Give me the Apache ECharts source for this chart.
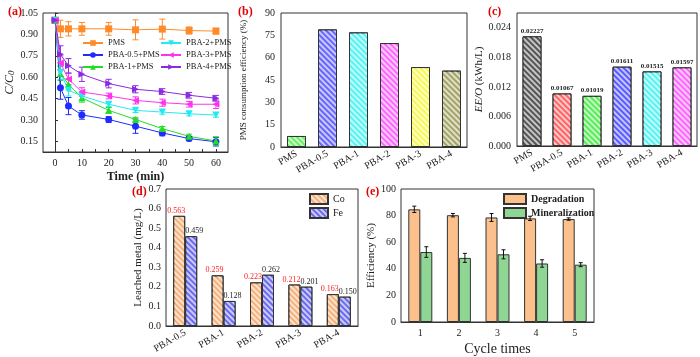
<!DOCTYPE html>
<html>
<head>
<meta charset="utf-8">
<script src="https://cdn.jsdelivr.net/npm/echarts@6/dist/echarts.min.js"></script>
<style>
html, body { margin: 0; padding: 0; background: #fff; }
#main { width: 700px; height: 357px; }
</style>
</head>
<body>
<div id="main"></div>
<script>
// (a) C/C0 vs time
var timeMin = [0, 2, 5, 10, 20, 30, 40, 50, 60];
var pmsC    = [1.0, 0.939, 0.939, 0.939, 0.939, 0.932, 0.937, 0.927, 0.923];
var pmsErr  = [0, 0.06, 0.05, 0.045, 0.045, 0.07, 0.07, 0.025, 0.02];
var pba05C  = [1.0, 0.525, 0.397, 0.335, 0.303, 0.256, 0.209, 0.169, 0.147];
var pba05Err= [0, 0.08, 0.06, 0.03, 0.02, 0.05, 0.02, 0.015, 0.03];
var pba1C   = [1.0, 0.626, 0.55, 0.455, 0.367, 0.303, 0.239, 0.185, 0.152];
var pba1Err = [0, 0.05, 0.04, 0.03, 0.02, 0.015, 0.015, 0.015, 0.03];
var pba2C   = [1.0, 0.633, 0.508, 0.468, 0.41, 0.367, 0.355, 0.343, 0.334];
var pba2Err = [0, 0.05, 0.04, 0.03, 0.015, 0.015, 0.015, 0.015, 0.015];
var pba3C   = [1.0, 0.70, 0.586, 0.496, 0.468, 0.437, 0.421, 0.41, 0.41];
var pba3Err = [0, 0.05, 0.04, 0.03, 0.02, 0.025, 0.025, 0.02, 0.03];
var pba4C   = [1.0, 0.76, 0.68, 0.62, 0.555, 0.515, 0.499, 0.473, 0.452];
var pba4Err = [0, 0.06, 0.05, 0.05, 0.03, 0.025, 0.02, 0.02, 0.02];
var timeLabels = [0, 10, 20, 30, 40, 50, 60];
var timeTicks = [0, 5, 10, 15, 20, 25, 30, 35, 40, 45, 50, 55, 60];
var cLabels = [0.15, 0.30, 0.45, 0.60, 0.75, 0.90, 1.05];

// (b) PMS consumption efficiency, (c) EE/O
var pbaCats = ['PMS', 'PBA-0.5', 'PBA-1', 'PBA-2', 'PBA-3', 'PBA-4'];
var pmsEff = [7.4, 79, 77, 69.8, 53.7, 51.3];
var eeo = [0.02227, 0.01067, 0.01019, 0.01611, 0.01515, 0.01597];

// (d) leached metal
var leachCats = ['PBA-0.5', 'PBA-1', 'PBA-2', 'PBA-3', 'PBA-4'];
var coLeach = [0.563, 0.259, 0.223, 0.212, 0.163];
var feLeach = [0.459, 0.128, 0.262, 0.201, 0.150];

// (e) cycles
var cycles = ['1', '2', '3', '4', '5'];
var degr = [84.7, 80.3, 78.6, 77.9, 77.4];
var degrErr = [2.4, 1.3, 3, 1.6, 0.9];
var miner = [52.6, 48.2, 50.9, 44.0, 43.1];
var minerErr = [4, 3.4, 3.4, 2.8, 1.5];

var FONT = 'Liberation Serif';
var myChart = echarts.init(document.getElementById('main'));

function hatch(c) {
    return { symbol: 'rect', symbolSize: 1, dashArrayX: [1, 0], dashArrayY: [1.5, 2],
             rotation: Math.PI / 4, color: c };
}
function axisBase(idx) {
    return {
        gridIndex: idx,
        axisLine: { lineStyle: { color: '#333', width: 1 } },
        axisTick: { inside: true, length: 3, lineStyle: { color: '#333' } },
        axisLabel: { color: '#222', fontFamily: FONT, fontSize: 10 },
        splitLine: { show: false },
        nameTextStyle: { color: '#222', fontFamily: FONT, fontSize: 11 }
    };
}
function ext(o, p) { for (var k in p) o[k] = p[k]; return o; }

function errLine(color) {
    return function (params, api) {
        var x = api.value(0), y = api.value(1), e = api.value(2);
        var t = api.coord([x, y + e]), b = api.coord([x, y - e]);
        var s = { stroke: color, lineWidth: 1 };
        return { type: 'group', children: [
            { type: 'line', shape: { x1: t[0], y1: t[1], x2: b[0], y2: b[1] }, style: s },
            { type: 'line', shape: { x1: t[0] - 3, y1: t[1], x2: t[0] + 3, y2: t[1] }, style: s },
            { type: 'line', shape: { x1: b[0] - 3, y1: b[1], x2: b[0] + 3, y2: b[1] }, style: s }
        ]};
    };
}
function barErr(dx) {
    return function (params, api) {
        var x = api.value(0), y = api.value(1), e = api.value(2);
        var t = api.coord([x, y + e]), b = api.coord([x, y - e]);
        var s = { stroke: '#111', lineWidth: 1 };
        return { type: 'group', children: [
            { type: 'line', shape: { x1: t[0] + dx, y1: t[1], x2: b[0] + dx, y2: b[1] }, style: s },
            { type: 'line', shape: { x1: t[0] + dx - 2, y1: t[1], x2: t[0] + dx + 2, y2: t[1] }, style: s },
            { type: 'line', shape: { x1: b[0] + dx - 2, y1: b[1], x2: b[0] + dx + 2, y2: b[1] }, style: s }
        ]};
    };
}
function zip(xs, ys, es) {
    return ys.map(function (v, i) { return es ? [xs[i], v, es[i]] : [xs[i], v]; });
}

var lineDefs = [
    { name: 'PMS', y: pmsC, e: pmsErr, color: '#ff8a2a', symbol: 'rect', rot: 0 },
    { name: 'PBA-0.5+PMS', y: pba05C, e: pba05Err, color: '#1f2bff', symbol: 'circle', rot: 0 },
    { name: 'PBA-1+PMS', y: pba1C, e: pba1Err, color: '#22dd22', symbol: 'triangle', rot: 0 },
    { name: 'PBA-2+PMS', y: pba2C, e: pba2Err, color: '#22eaf0', symbol: 'triangle', rot: 180 },
    { name: 'PBA-3+PMS', y: pba3C, e: pba3Err, color: '#ff33ee', symbol: 'triangle', rot: 90 },
    { name: 'PBA-4+PMS', y: pba4C, e: pba4Err, color: '#8a2be2', symbol: 'triangle', rot: -90 }
];

var series = [];
lineDefs.forEach(function (d) {
    series.push({
        type: 'custom', name: 'err-' + d.name, xAxisIndex: 0, yAxisIndex: 0,
        renderItem: errLine(d.color), data: zip(timeMin, d.y, d.e), silent: true
    });
    series.push({
        type: 'line', name: d.name, xAxisIndex: 0, yAxisIndex: 0,
        data: zip(timeMin, d.y), symbol: d.symbol, symbolRotate: d.rot, symbolSize: 7,
        color: d.color, lineStyle: { width: 1, color: d.color }, itemStyle: { color: d.color }
    });
});

var bColors = ['#66f066', '#6666ff', '#55f4f4', '#ff66ff', '#f8f855', '#a3a366'];
series.push({
    type: 'bar', name: 'eff', xAxisIndex: 1, yAxisIndex: 1, barWidth: 19,
    data: pmsEff.map(function (v, i) {
        return { value: v, itemStyle: { color: bColors[i], borderColor: '#333', borderWidth: 1,
                 decal: hatch('rgba(255,255,255,0.65)') } };
    })
});
var cColors = ['#555555', '#ff6464', '#55ee55', '#5a5aff', '#55f4f4', '#ff66ff'];
series.push({
    type: 'bar', name: 'eeo', xAxisIndex: 2, yAxisIndex: 2, barWidth: 19,
    label: { show: true, position: 'top', distance: 2, fontFamily: FONT, fontSize: 7,
             fontWeight: 'bold', color: '#222',
             formatter: function (p) { return p.value.toFixed(5); } },
    data: eeo.map(function (v, i) {
        return { value: v, itemStyle: { color: cColors[i], borderColor: '#333', borderWidth: 1,
                 decal: hatch('rgba(255,255,255,0.65)') } };
    })
});
series.push({
    type: 'bar', name: 'Co', xAxisIndex: 3, yAxisIndex: 3, barWidth: 12, barGap: '0%',
    itemStyle: { color: '#f7b078', borderColor: '#333', borderWidth: 1, decal: hatch('rgba(255,255,255,0.65)') },
    label: { show: true, position: 'top', distance: 1, offset: [-3, 0], fontFamily: FONT, fontSize: 8,
             color: '#ff2020', formatter: function (p) { return p.value.toFixed(3); } },
    data: coLeach
});
series.push({
    type: 'bar', name: 'Fe', xAxisIndex: 3, yAxisIndex: 3, barWidth: 12, barGap: '0%',
    itemStyle: { color: '#6a6af0', borderColor: '#333', borderWidth: 1, decal: hatch('rgba(255,255,255,0.65)') },
    label: { show: true, position: 'top', distance: 1, offset: [3, 0], fontFamily: FONT, fontSize: 8,
             color: '#222', formatter: function (p) { return p.value.toFixed(3); } },
    data: feLeach
});
series.push({
    type: 'bar', name: 'Degradation', xAxisIndex: 4, yAxisIndex: 4, barWidth: 12, barGap: '0%',
    itemStyle: { color: '#fcc08c', borderColor: '#333', borderWidth: 1 }, data: degr
});
series.push({
    type: 'bar', name: 'Mineralization', xAxisIndex: 4, yAxisIndex: 4, barWidth: 12, barGap: '0%',
    itemStyle: { color: '#8fd694', borderColor: '#333', borderWidth: 1 }, data: miner
});
series.push({
    type: 'custom', name: 'err-deg', xAxisIndex: 4, yAxisIndex: 4, renderItem: barErr(-6), silent: true,
    data: degr.map(function (v, i) { return [i, v, degrErr[i]]; }), z: 5
});
series.push({
    type: 'custom', name: 'err-min', xAxisIndex: 4, yAxisIndex: 4, renderItem: barErr(6), silent: true,
    data: miner.map(function (v, i) { return [i, v, minerErr[i]]; }), z: 5
});

var gridStyle = { show: true, borderColor: '#333', borderWidth: 1, backgroundColor: 'transparent' };
var option = {
    animation: false,
    title: [
        { text: '(a)', left: 3, top: 1 },
        { text: '(b)', left: 233, top: 1 },
        { text: '(c)', left: 483, top: 1 },
        { text: '(d)', left: 127, top: 181 },
        { text: '(e)', left: 361, top: 181 }
    ].map(function (t) {
        t.textStyle = { color: '#e00000', fontFamily: FONT, fontSize: 12, fontWeight: 'bold' };
        return t;
    }),
    grid: [
        ext({ left: 43, top: 13, width: 185, height: 139 }, gridStyle),
        ext({ left: 281, top: 13, width: 186, height: 134 }, gridStyle),
        ext({ left: 517, top: 13, width: 180, height: 133 }, gridStyle),
        ext({ left: 166, top: 189, width: 192, height: 137 }, gridStyle),
        ext({ left: 401, top: 189, width: 193, height: 137 }, gridStyle)
    ],
    legend: [
        { data: ['PMS', 'PBA-0.5+PMS', 'PBA-1+PMS'], left: 82, top: 38, orient: 'vertical',
          itemWidth: 20, itemHeight: 7, itemGap: 2, padding: 0,
          textStyle: { fontFamily: FONT, fontSize: 8.5, color: '#222', lineHeight: 10 } },
        { data: ['PBA-2+PMS', 'PBA-3+PMS', 'PBA-4+PMS'], left: 160, top: 38, orient: 'vertical',
          itemWidth: 20, itemHeight: 7, itemGap: 2, padding: 0,
          textStyle: { fontFamily: FONT, fontSize: 8.5, color: '#222', lineHeight: 10 } },
        { data: ['Co', 'Fe'], left: 309, top: 193, orient: 'vertical', icon: 'rect',
          itemWidth: 18, itemHeight: 10, itemGap: 2, padding: 0,
          textStyle: { fontFamily: FONT, fontSize: 10, color: '#222', lineHeight: 10 } },
        { data: ['Degradation', 'Mineralization'], left: 503, top: 193, orient: 'vertical', icon: 'rect',
          itemWidth: 22, itemHeight: 10, itemGap: 2, padding: 0,
          textStyle: { fontFamily: FONT, fontSize: 10, fontWeight: 'bold', color: '#222', lineHeight: 10 } }
    ],
    xAxis: [
        ext(axisBase(0), { type: 'value', min: -4.5, max: 64.5,
            name: 'Time (min)', nameLocation: 'middle', nameGap: 19,
            nameTextStyle: { color: '#222', fontFamily: FONT, fontSize: 12, fontWeight: 'bold' },
            axisTick: { inside: true, length: 3, lineStyle: { color: '#333' }, customValues: timeTicks },
            axisLabel: { color: '#222', fontFamily: FONT, fontSize: 10, customValues: timeLabels, margin: 6 } }),
        ext(axisBase(1), { type: 'category', data: pbaCats,
            axisTick: { inside: true, length: 3, alignWithLabel: true, lineStyle: { color: '#333' } },
            axisLabel: { color: '#222', fontFamily: FONT, fontSize: 10, rotate: 30, interval: 0, margin: 6 } }),
        ext(axisBase(2), { type: 'category', data: pbaCats,
            axisTick: { inside: true, length: 3, alignWithLabel: true, lineStyle: { color: '#333' } },
            axisLabel: { color: '#222', fontFamily: FONT, fontSize: 10, rotate: 30, interval: 0, margin: 6 } }),
        ext(axisBase(3), { type: 'category', data: leachCats,
            axisTick: { inside: true, length: 3, alignWithLabel: true, lineStyle: { color: '#333' } },
            axisLabel: { color: '#222', fontFamily: FONT, fontSize: 10, rotate: 30, interval: 0, margin: 6 } }),
        ext(axisBase(4), { type: 'category', data: cycles,
            name: 'Cycle times', nameLocation: 'middle', nameGap: 20,
            nameTextStyle: { color: '#222', fontFamily: FONT, fontSize: 14 },
            axisTick: { inside: true, length: 3, alignWithLabel: true, lineStyle: { color: '#333' } },
            axisLabel: { color: '#222', fontFamily: FONT, fontSize: 10, margin: 6 } })
    ],
    yAxis: [
        ext(axisBase(0), { type: 'value', min: 0.075, max: 1.05,
            name: '{i|C/C}{s|0}', nameLocation: 'middle', nameGap: 25,
            nameTextStyle: { rich: {
                i: { fontFamily: FONT, fontSize: 12, fontStyle: 'italic', color: '#222' },
                s: { fontFamily: FONT, fontSize: 9, fontStyle: 'italic', color: '#222', verticalAlign: 'bottom', padding: [4, 0, 0, 0] } } },
            axisTick: { inside: true, length: 3, lineStyle: { color: '#333' }, customValues: cLabels },
            axisLabel: { color: '#222', fontFamily: FONT, fontSize: 10, customValues: cLabels, margin: 5,
                         formatter: function (v) { return v.toFixed(2); } } }),
        ext(axisBase(1), { type: 'value', min: 0, max: 90, interval: 15,
            name: 'PMS consumption efficiency (%)', nameLocation: 'middle', nameGap: 33,
            nameTextStyle: { color: '#222', fontFamily: FONT, fontSize: 9 },
            axisLabel: { color: '#222', fontFamily: FONT, fontSize: 10, margin: 6 } }),
        ext(axisBase(2), { type: 'value', min: 0, max: 0.027, interval: 0.006,
            name: '{i|EE/O} (kWh/L)', nameLocation: 'middle', nameGap: 31,
            nameTextStyle: { fontFamily: FONT, fontSize: 11, color: '#222', rich: {
                i: { fontFamily: FONT, fontSize: 11, fontStyle: 'italic', color: '#222' } } },
            axisLabel: { color: '#222', fontFamily: FONT, fontSize: 10, margin: 6, showMaxLabel: false,
                         formatter: function (v) { return v.toFixed(3); } } }),
        ext(axisBase(3), { type: 'value', min: 0, max: 0.7, interval: 0.1,
            name: 'Leached metal (mg/L)', nameLocation: 'middle', nameGap: 22,
            axisLabel: { color: '#222', fontFamily: FONT, fontSize: 10, margin: 5,
                         formatter: function (v) { return v.toFixed(1); } } }),
        ext(axisBase(4), { type: 'value', min: 0, max: 100, interval: 20,
            name: 'Efficiency (%)', nameLocation: 'middle', nameGap: 24,
            axisLabel: { color: '#222', fontFamily: FONT, fontSize: 10, margin: 5 } })
    ],
    series: series
};
myChart.setOption(option);
</script>
</body>
</html>
